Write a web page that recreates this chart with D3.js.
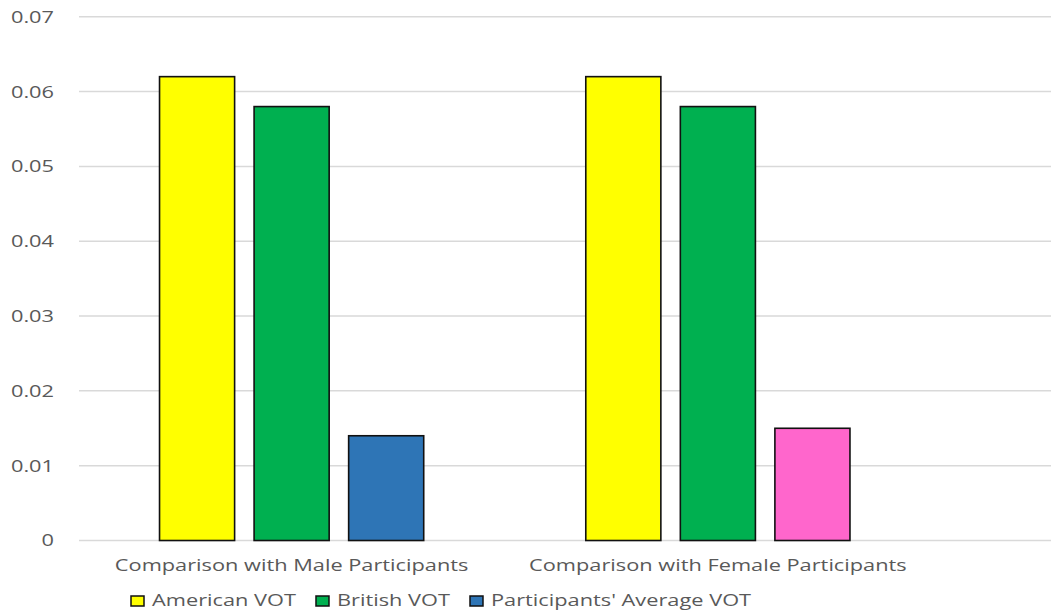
<!DOCTYPE html>
<html><head><meta charset="utf-8">
<script src="https://cdn.jsdelivr.net/npm/d3@7"></script>
<style>
html,body{margin:0;padding:0;background:#fff;}
text{font-family:"Open Sans",sans-serif;fill:#595959;}
</style></head>
<body>
<svg id="chart" width="1051" height="612"></svg>
<script>
const categories = ["Comparison with Male Participants", "Comparison with Female Participants"];
const seriesNames = ["American VOT", "British VOT", "Participants' Average VOT"];
const americanVOT = [0.062, 0.062];
const britishVOT = [0.058, 0.058];
const participantsVOT = [0.014, 0.015];
const seriesColors = ["#FFFF00", "#00B050", "#2E75B6"];
const pointColorOverride = {"Participants' Average VOT": ["#2E75B6", "#FF66CC"]};
const yTicks = [0, 0.01, 0.02, 0.03, 0.04, 0.05, 0.06, 0.07];

const seriesValues = [americanVOT, britishVOT, participantsVOT];
const SX = 1.32;     // horizontal text stretch of the reference
const FS = 16.5;

const svg = d3.select("#chart");
const W = 1051;
const plotLeft = 79, plotRight = 1051, groupsRight = 931;
const y = d3.scaleLinear().domain([0, 0.07]).range([540.5, 16.8]);
const x0 = d3.scaleBand().domain(categories).range([plotLeft - 0.5, groupsRight]).paddingInner(0).paddingOuter(0);
const x1 = d3.scaleBand().domain(seriesNames).range([0, x0.bandwidth()]).paddingInner(0.206).paddingOuter(0.857);

// gridlines
svg.append("g").selectAll("line").data(yTicks).join("line")
  .attr("x1", plotLeft).attr("x2", plotRight)
  .attr("y1", d => y(d)).attr("y2", d => y(d))
  .attr("stroke", "#d9d9d9").attr("stroke-width", 1.5);

// y tick labels
svg.append("g").selectAll("text").data(yTicks).join("text")
  .attr("transform", d => `translate(54,${y(d)}) scale(${SX},1)`)
  .attr("dy", "0.36em")
  .attr("text-anchor", "end")
  .style("font-size", FS + "px")
  .text(d => d === 0 ? "0" : d.toFixed(2));

// bars
const barData = [];
categories.forEach((c, ci) => {
  seriesNames.forEach((s, si) => {
    const col = pointColorOverride[s] ? pointColorOverride[s][ci] : seriesColors[si];
    barData.push({cat: c, series: s, value: seriesValues[si][ci], color: col});
  });
});
svg.append("g").selectAll("rect").data(barData).join("rect")
  .attr("x", d => x0(d.cat) + x1(d.series))
  .attr("width", x1.bandwidth())
  .attr("y", d => y(d.value))
  .attr("height", d => y(0) - y(d.value))
  .attr("fill", d => d.color)
  .attr("stroke", "#111").attr("stroke-width", 1.6);

// category labels
svg.append("g").selectAll("text").data(categories).join("text")
  .attr("transform", d => `translate(${x0(d) + x0.bandwidth()/2},571) scale(${SX},1)`)
  .attr("text-anchor", "middle")
  .style("font-size", FS + "px")
  .text(d => d);

// legend
const lg = svg.append("g");
let lx = 131;
seriesNames.forEach((s, i) => {
  lg.append("rect").attr("x", lx).attr("y", 596).attr("width", 13).attr("height", 10)
    .attr("fill", seriesColors[i]).attr("stroke", "#111").attr("stroke-width", 1.5);
  const t = lg.append("text")
    .attr("transform", `translate(${lx + 21},606) scale(${SX},1)`)
    .style("font-size", FS + "px")
    .text(s);
  const w = t.node().getComputedTextLength() * SX;
  lx = lx + 21 + w + 20;
});
</script>
</body></html>
